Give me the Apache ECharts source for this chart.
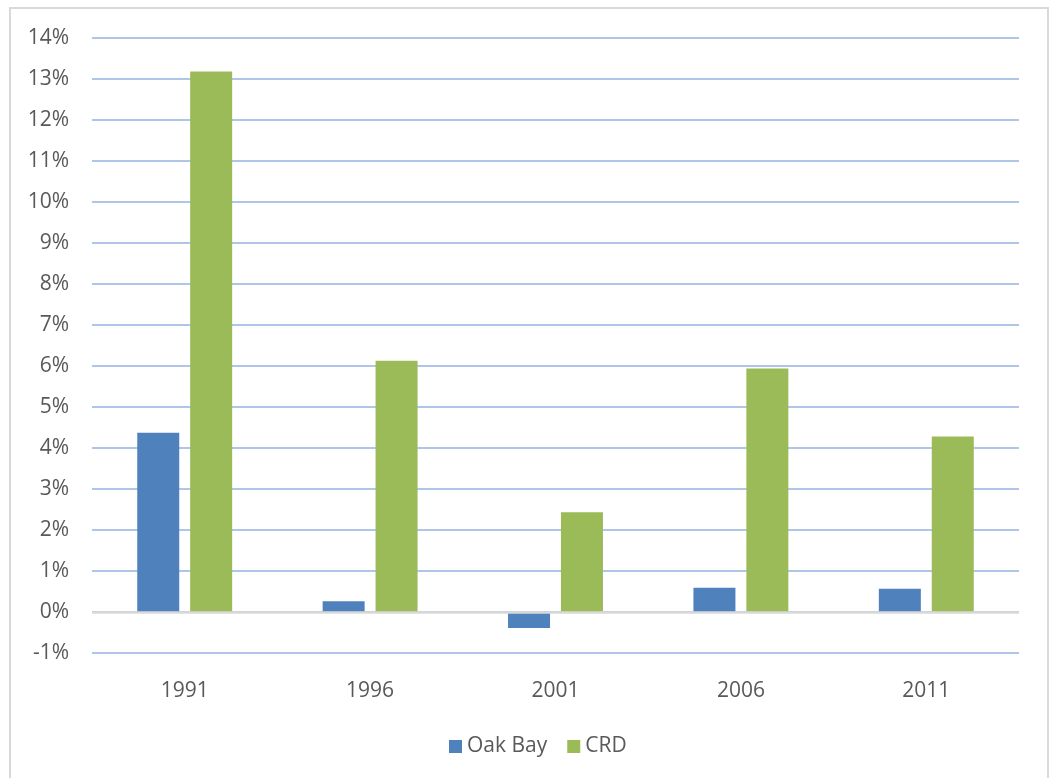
<!DOCTYPE html>
<html>
<head>
<meta charset="utf-8">
<script src="https://cdn.jsdelivr.net/npm/echarts@6/dist/echarts.min.js"></script>
<style>
html,body{margin:0;padding:0;background:#fff;}
#c{width:1051px;height:778px;}
</style>
</head>
<body>
<div id="c"></div>
<script>
const categories = ['1991', '1996', '2001', '2006', '2011'];
const oakBay = [4.37, 0.26, -0.39, 0.59, 0.57];
const crd = [13.18, 6.13, 2.43, 5.94, 4.28];
const yMin = -1, yMax = 14, yStep = 1;

const chart = echarts.init(document.getElementById('c'));
const font = '"Open Sans", "Liberation Sans", sans-serif';
chart.setOption({
  animation: false,
  backgroundColor: '#fff',
  textStyle: { fontFamily: font },
  graphic: [{
    type: 'rect',
    shape: { x: 10, y: 8, width: 1038, height: 780 },
    style: { fill: 'none', stroke: '#D9D9D9', lineWidth: 2 },
    silent: true
  }],
  grid: { left: 92, right: 32, top: 38, bottom: 125 },
  legend: {
    bottom: 16,
    left: 444,
    itemWidth: 13,
    itemHeight: 13,
    itemGap: 20,
    icon: 'rect',
    textStyle: { fontSize: 21, color: '#595959', fontFamily: font },
    data: ['Oak Bay', 'CRD']
  },
  xAxis: {
    type: 'category',
    data: categories,
    axisLine: { show: false, onZero: false },
    axisTick: { show: false },
    axisLabel: { fontSize: 21, color: '#595959', margin: 28, fontFamily: font }
  },
  yAxis: {
    type: 'value',
    min: yMin, max: yMax, interval: yStep,
    axisLine: { show: false },
    axisTick: { show: false },
    axisLabel: { fontSize: 21, color: '#595959', margin: 23, formatter: v => v + '%', fontFamily: font },
    splitLine: { lineStyle: { color: '#95B3E0', width: 1.5 } }
  },
  series: [
    {
      name: 'Oak Bay', type: 'bar', data: oakBay,
      barWidth: 42, barGap: '26%',
      itemStyle: { color: '#4F81BD' },
      markLine: {
        silent: true, symbol: 'none', label: { show: false },
        lineStyle: { color: '#D9D9D9', width: 2.5, type: 'solid' },
        data: [{ yAxis: 0 }],
        z: 10
      }
    },
    {
      name: 'CRD', type: 'bar', data: crd,
      barWidth: 42,
      itemStyle: { color: '#9BBB59' }
    }
  ]
});
</script>
</body>
</html>
